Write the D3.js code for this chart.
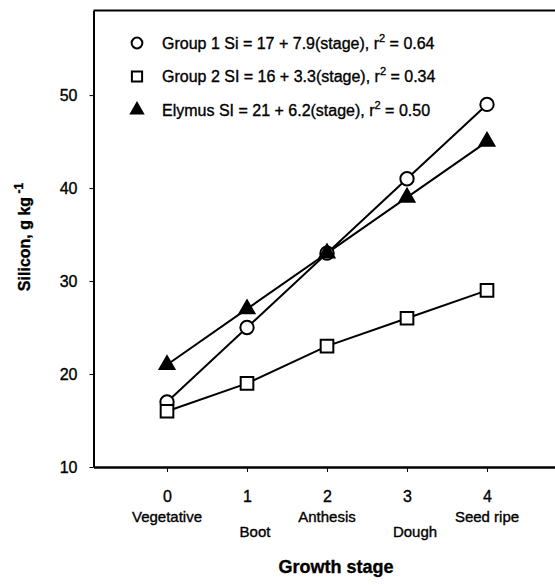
<!DOCTYPE html>
<html>
<head>
<meta charset="utf-8">
<script src="https://cdn.jsdelivr.net/npm/d3@7"></script>
<style>
  body { margin: 0; background: #fff; }
  text { font-family: "Liberation Sans", Arial, Helvetica, sans-serif; fill: #000; stroke: #000; stroke-width: 0.35px; }
</style>
</head>
<body>
<div id="chart"></div>
<script>
// growth stages on the x axis
const stages = [0, 1, 2, 3, 4]
const stageNames = ['Vegetative', 'Boot', 'Anthesis', 'Dough', 'Seed ripe']

// silicon, g/kg
const group1 = [17, 25, 33, 41, 49]
const group2 = [16, 19, 23, 26, 29]
const elymus = [21, 27, 33, 39, 45]

const yTicks = [10, 20, 30, 40, 50]

const legendLabels = [
    ['Group 1 Si = 17 + 7.9(stage), r', ' = 0.64'],
    ['Group 2 SI = 16 + 3.3(stage), r', ' = 0.34'],
    ['Elymus SI = 21 + 6.2(stage), r', ' = 0.50']
]

const width = 555
const height = 585

const svg = d3.select('#chart')
    .append('svg')
    .attr('width', width)
    .attr('height', height)

const xScale = d3.scaleLinear().domain([-0.919, 4.85]).range([93.5, 555])
const yScale = d3.scaleLinear().domain([10, 59.1]).range([467, 10.5])

const series = [
    {name: 'group1', values: group1, shape: d3.symbolCircle, fill: '#fff'},
    {name: 'group2', values: group2, shape: d3.symbolSquare, fill: '#fff'},
    {name: 'elymus', values: elymus, shape: d3.symbolTriangle, fill: '#000'}
]
const markerSize = {group1: 140, group2: 160, elymus: 95}

// bottom axis
const xAxis = svg.append('g')
    .attr('transform', `translate(0, ${yScale(10)})`)
    .call(d3.axisBottom(xScale).tickValues(stages).tickFormat(d3.format('d'))
        .tickSize(5).tickPadding(19).tickSizeOuter(0))
xAxis.select('.domain').attr('stroke-width', 2.5)
xAxis.selectAll('.tick line').attr('stroke-width', 1)
xAxis.selectAll('text').style('font-size', '16px').style('font-family', 'Liberation Sans, Arial, sans-serif')

// left axis
const yAxis = svg.append('g')
    .attr('transform', `translate(${xScale.range()[0]}, 0)`)
    .call(d3.axisLeft(yScale).tickValues(yTicks).tickSize(4).tickPadding(12).tickSizeOuter(0))
yAxis.select('.domain').attr('stroke-width', 2)
yAxis.selectAll('.tick line').attr('stroke-width', 1)
yAxis.selectAll('text').style('font-size', '16px').style('font-family', 'Liberation Sans, Arial, sans-serif')

// top border
svg.append('line')
    .attr('x1', xScale.range()[0])
    .attr('x2', xScale.range()[1])
    .attr('y1', yScale.range()[1])
    .attr('y2', yScale.range()[1])
    .attr('stroke', '#000')
    .attr('stroke-width', 2)

// stage names, alternating rows
svg.selectAll('.stage-name')
    .data(stageNames)
    .enter()
    .append('text')
    .attr('class', 'stage-name')
    .attr('x', (d, i) => xScale(stages[i]) + (i % 2 ? 8 : 0))
    .attr('y', (d, i) => i % 2 ? 537 : 522)
    .attr('text-anchor', 'middle')
    .style('font-size', '15px')
    .text(d => d)

// lines
const line = d3.line()
    .x((d, i) => xScale(stages[i]))
    .y(d => yScale(d))

series.forEach(s => {
    svg.append('path')
        .datum(s.values)
        .attr('d', line)
        .attr('fill', 'none')
        .attr('stroke', '#000')
        .attr('stroke-width', 2)
})

// markers
series.forEach(s => {
    svg.selectAll('.pt-' + s.name)
        .data(s.values)
        .enter()
        .append('path')
        .attr('class', 'pt-' + s.name)
        .attr('d', d3.symbol().type(s.shape).size(markerSize[s.name]))
        .attr('transform', (d, i) => `translate(${xScale(stages[i])}, ${yScale(d)})`)
        .attr('fill', s.fill)
        .attr('stroke', '#000')
        .attr('stroke-width', 2)
})

// legend
const legend = svg.append('g')
legendLabels.forEach((lab, i) => {
    const y = 43 + i * 33.5
    const s = series[i]
    legend.append('path')
        .attr('d', d3.symbol().type(s.shape).size(markerSize[s.name] * 0.65))
        .attr('transform', `translate(137, ${y})`)
        .attr('fill', s.fill)
        .attr('stroke', '#000')
        .attr('stroke-width', 2)
    const t = legend.append('text')
        .attr('x', 162)
        .attr('y', y + 5.5)
        .style('font-size', '16px')
    t.append('tspan').text(lab[0])
    t.append('tspan').attr('dy', -7).style('font-size', '11px').text('2')
    t.append('tspan').attr('dy', 7).text(lab[1])
})

// y label
const yLab = svg.append('text')
    .attr('text-anchor', 'middle')
    .attr('transform', 'translate(30, 237) rotate(-90)')
    .style('font-size', '16px')
    .style('font-weight', 'bold')
yLab.append('tspan').text('Silicon, g kg')
yLab.append('tspan').attr('dy', -7).style('font-size', '12px').text(' -1')

// x label
svg.append('text')
    .attr('x', 336)
    .attr('y', 573)
    .attr('text-anchor', 'middle')
    .style('font-size', '18px')
    .style('font-weight', 'bold')
    .text('Growth stage')
</script>
</body>
</html>
